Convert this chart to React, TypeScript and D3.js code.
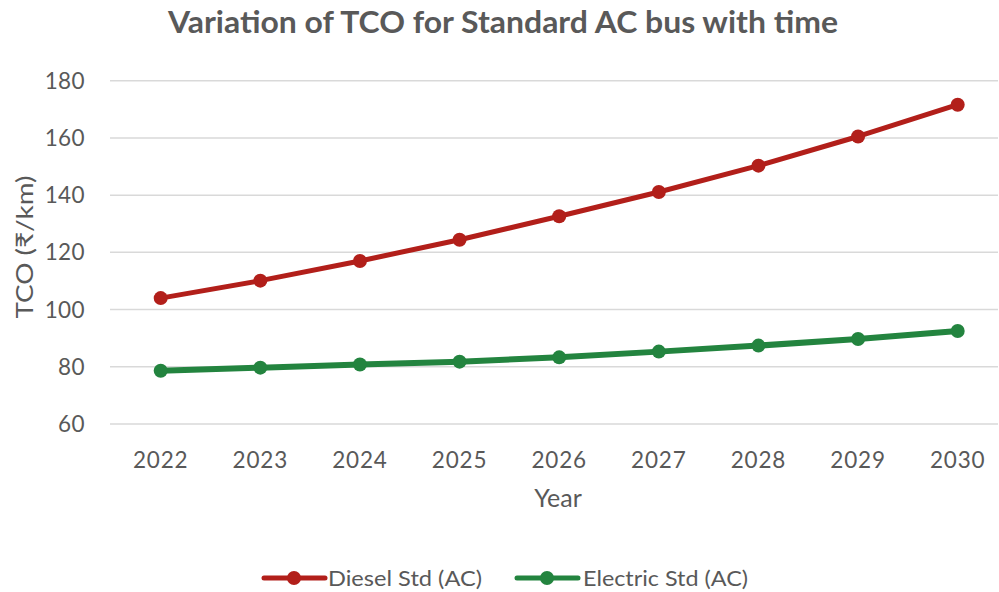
import React from "react";
import * as d3 from "d3";

const years = ["2022", "2023", "2024", "2025", "2026", "2027", "2028", "2029", "2030"];
const dieselStd = [104.0, 110.1, 117.0, 124.4, 132.6, 141.1, 150.3, 160.5, 171.6];
const electricStd = [78.6, 79.7, 80.8, 81.8, 83.3, 85.3, 87.4, 89.7, 92.5];
const yTicks = [60, 80, 100, 120, 140, 160, 180];

const seriesNames = ["Diesel Std (AC)", "Electric Std (AC)"];
const seriesColors = ["#B21F1A", "#23843F"];

const W = 999;
const H = 592;
const font = "Lato, 'Noto Sans', sans-serif";
const textColor = "#595959";

export default function App() {
  const gridLeft = 110;
  const gridRight = 998;
  const x = d3.scalePoint<string>().domain(years).range([160.7, 957.7]);
  const y = d3.scaleLinear().domain([60, 180]).range([424, 80.7]);

  const line = d3
    .line<number>()
    .x((_, i) => x(years[i]) as number)
    .y((d) => y(d));

  const series = [dieselStd, electricStd];
  const widths = [5, 6];
  const legendTextLen = [154, 165];

  return (
    <svg width={W} height={H} style={{ position: "absolute", left: 0, top: 0, background: "#fff" }}>
      <rect x={0} y={0} width={W} height={H} fill="#fff" />
      <text x={503} y={33} textAnchor="middle" fontFamily={font} fontWeight="bold" fontSize={29.5} fill={textColor} textLength={670} lengthAdjust="spacingAndGlyphs">
        Variation of TCO for Standard AC bus with time
      </text>
      {yTicks.map((t) => (
        <g key={t}>
          <line x1={gridLeft} x2={gridRight} y1={y(t)} y2={y(t)} stroke="#D9D9D9" strokeWidth={1.5} />
          <text x={85} y={y(t)} dy="0.36em" textAnchor="end" fontFamily={font} fontSize={22.5} letterSpacing={0.4} fill={textColor}>
            {t}
          </text>
        </g>
      ))}
      {years.map((yr) => (
        <text key={yr} x={x(yr)} y={468} textAnchor="middle" fontFamily={font} fontSize={22.5} letterSpacing={0.8} fill={textColor}>
          {yr}
        </text>
      ))}
      <text x={558} y={507} textAnchor="middle" fontFamily={font} fontSize={25} fill={textColor}>
        Year
      </text>
      <text
        transform={`translate(33,247) rotate(-90)`}
        textAnchor="middle"
        fontFamily={font}
        fontSize={24}
        fill={textColor}
        textLength={143}
        lengthAdjust="spacingAndGlyphs"
      >
        TCO (₹/km)
      </text>
      {series.map((s, si) => (
        <g key={si}>
          <path d={line(s) || ""} fill="none" stroke={seriesColors[si]} strokeWidth={widths[si]} strokeLinejoin="round" strokeLinecap="round" />
          {s.map((v, i) => (
            <circle key={i} cx={x(years[i])} cy={y(v)} r={7} fill={seriesColors[si]} />
          ))}
        </g>
      ))}
      {seriesNames.map((name, si) => {
        const lx = si === 0 ? 264 : 517;
        const tx = si === 0 ? 328 : 583;
        return (
          <g key={name}>
            <line x1={lx} x2={lx + 61} y1={578} y2={578} stroke={seriesColors[si]} strokeWidth={5} strokeLinecap="round" />
            <circle cx={lx + 30} cy={578} r={7} fill={seriesColors[si]} />
            <text x={tx} y={578} dy="0.36em" fontFamily={font} fontSize={22} fill={textColor} textLength={legendTextLen[si]} lengthAdjust="spacingAndGlyphs">
              {name}
            </text>
          </g>
        );
      })}
    </svg>
  );
}
